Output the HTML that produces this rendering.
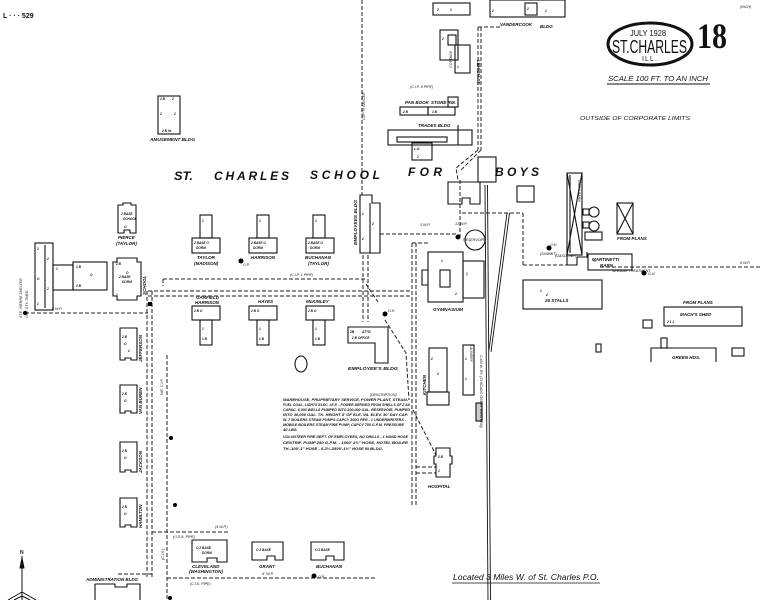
<!DOCTYPE html>
<html><head><meta charset="utf-8"><style>
html,body{margin:0;padding:0;background:#fff;}
svg{display:block;}
text{font-family:"Liberation Sans",sans-serif;fill:#111;font-style:italic;font-weight:bold;}
.t{font-size:4.5px;}
.s{font-size:3.6px;font-weight:normal;}
.m{font-size:3.2px;font-weight:normal;font-style:normal;}
</style></head><body>
<svg width="771" height="600" viewBox="0 0 771 600" xmlns="http://www.w3.org/2000/svg">
<rect width="771" height="600" fill="#fff"/>

<!-- header -->
<text x="3" y="18" style="font-size:7px;font-style:normal">L · · · 529</text>
<text x="740" y="8" class="s">(INCH)</text>
<ellipse cx="650" cy="44" rx="42" ry="21" fill="none" stroke="#111" stroke-width="3"/>
<text x="630" y="36" style="font-size:8px;font-style:normal;font-weight:normal" textLength="36" lengthAdjust="spacingAndGlyphs">JULY 1928</text>
<text x="612" y="53" style="font-size:18px;font-style:normal;font-weight:normal" textLength="75" lengthAdjust="spacingAndGlyphs">ST.CHARLES</text>
<text x="642" y="61" style="font-size:7px;font-style:normal;font-weight:normal" textLength="15" lengthAdjust="spacing">ILL.</text>
<text x="697" y="48" style="font-family:'Liberation Serif',serif;font-size:36px;font-style:normal;font-weight:bold" textLength="30" lengthAdjust="spacingAndGlyphs">18</text>
<text x="608" y="81" style="font-size:7.5px;font-weight:normal" textLength="100" lengthAdjust="spacingAndGlyphs">SCALE 100 FT. TO AN INCH</text>
<line x1="607" y1="84" x2="710" y2="84" stroke="#111" stroke-width="1"/>
<text x="580" y="120" style="font-size:5.5px;font-weight:normal" textLength="110" lengthAdjust="spacingAndGlyphs">OUTSIDE OF CORPORATE LIMITS</text>

<!-- big title -->
<g style="font-size:12px;font-weight:normal">
<text x="174" y="180" textLength="19" lengthAdjust="spacingAndGlyphs">ST.</text>
<text x="214" y="180" textLength="75" lengthAdjust="spacing">CHARLES</text>
<text x="310" y="179" textLength="70" lengthAdjust="spacing">SCHOOL</text>
<text x="408" y="176" textLength="34" lengthAdjust="spacing">FOR</text>
<text x="495" y="176" textLength="44" lengthAdjust="spacing">BOYS</text>
</g>

<!-- dashed roads -->
<g fill="none" stroke="#222" stroke-width="1" stroke-dasharray="4 2">
<line x1="362" y1="0" x2="362" y2="195"/>
<line x1="363" y1="255" x2="363" y2="322"/>
<line x1="368" y1="255" x2="368" y2="322"/>
<line x1="148" y1="291" x2="412" y2="291"/>
<line x1="148" y1="296" x2="412" y2="296"/>
<line x1="163" y1="279" x2="366" y2="279"/>
<line x1="163" y1="279" x2="163" y2="286"/>
<line x1="25" y1="313" x2="148" y2="313"/>
<line x1="147" y1="291" x2="147" y2="578"/>
<line x1="152" y1="291" x2="152" y2="578"/>
<line x1="167" y1="355" x2="167" y2="600"/>
<line x1="152" y1="532" x2="230" y2="532"/>
<line x1="167" y1="578" x2="375" y2="578"/>
<line x1="118" y1="574" x2="152" y2="574"/>
<line x1="412" y1="243" x2="412" y2="505"/>
<line x1="416" y1="243" x2="416" y2="505"/>
<line x1="412" y1="243" x2="428" y2="243"/>
<line x1="380" y1="234" x2="458" y2="234"/>
<line x1="460" y1="180" x2="460" y2="237"/>
<line x1="462" y1="213" x2="523" y2="213"/>
<line x1="523" y1="213" x2="523" y2="265"/>
<line x1="523" y1="265" x2="576" y2="265"/>
<line x1="600" y1="267" x2="762" y2="267"/>
<line x1="478" y1="27" x2="478" y2="150"/>
<line x1="481" y1="27" x2="481" y2="150"/>
<line x1="478" y1="27" x2="500" y2="27"/>
<polyline points="478,150 456,168 458,180"/>
<polyline points="481,150 461,170"/>
<polyline points="385,320 406,353 409,400"/>
<line x1="413" y1="410" x2="436" y2="455"/>
<line x1="366" y1="284" x2="378" y2="302"/>
<line x1="416" y1="467" x2="436" y2="467"/>
<line x1="416" y1="473" x2="436" y2="473"/>
</g>

<!-- railway -->
<g stroke="#111" stroke-width="0.9" fill="none">
<line x1="485" y1="185" x2="488" y2="600"/>
<line x1="487.5" y1="185" x2="490.5" y2="600"/>
<line x1="507" y1="213" x2="489" y2="350"/>
<line x1="509.5" y1="213" x2="491" y2="352"/>
</g>

<!-- buildings -->
<g fill="none" stroke="#111" stroke-width="1.1">
<rect x="158" y="96" width="22" height="38"/>
<path d="M118,205 h5 v-2 h8 v2 h5 v28 h-6 v-3 h-6 v3 h-6 z"/>
<rect x="35" y="243" width="18" height="67"/>
<line x1="45" y1="245" x2="45" y2="308"/>
<rect x="53" y="265" width="20" height="25"/>
<rect x="73" y="262" width="34" height="28"/>
<path d="M113,262 h4 v-4 h20 v4 h4 v34 h-4 v4 h-20 v-4 h-4 z"/>
<rect x="200" y="215" width="12" height="23"/><rect x="192" y="238" width="28" height="15"/>
<rect x="257" y="215" width="12" height="23"/><rect x="249" y="238" width="28" height="15"/>
<rect x="313" y="215" width="12" height="23"/><rect x="306" y="238" width="28" height="15"/>
<rect x="192" y="306" width="28" height="14"/><rect x="200" y="320" width="12" height="25"/>
<rect x="249" y="306" width="28" height="14"/><rect x="257" y="320" width="12" height="25"/>
<rect x="306" y="306" width="28" height="14"/><rect x="313" y="320" width="12" height="25"/>
<path d="M120,328 h17 v32 h-6 v-2 h-6 v2 h-5 z"/>
<path d="M120,385 h17 v28 h-6 v-2 h-6 v2 h-5 z"/>
<path d="M120,442 h17 v30 h-6 v-2 h-6 v2 h-5 z"/>
<path d="M120,498 h17 v29 h-6 v-2 h-6 v2 h-5 z"/>
<path d="M192,540 h35 v22 h-10 v-4 h-10 v4 h-15 z"/>
<path d="M252,542 h31 v18 h-8 v-4 h-8 v4 h-15 z"/>
<path d="M311,542 h33 v18 h-10 v-4 h-8 v4 h-15 z"/>
<path d="M95,584 h20 v3 h12 v-3 h13 v16"/>
<path d="M95,584 v16"/>
<path d="M360,195 h12 v8 h8 v50 h-20 z"/>
<line x1="370" y1="203" x2="370" y2="253"/>
<path d="M348,327 h40 v36 h-13 v-20 h-27 z"/>
<rect x="428" y="252" width="35" height="50"/>
<rect x="463" y="261" width="21" height="37"/>
<rect x="440" y="270" width="10" height="17"/>
<path d="M428,270 h-6 v15 h6"/>
<circle cx="475" cy="240" r="10"/>
<path d="M448,182 h32 v22 h-10 v-6 h-8 v6 h-14 z"/>
<rect x="517" y="186" width="17" height="16"/>
<rect x="433" y="3" width="37" height="12"/>
<rect x="440" y="30" width="18" height="30"/>
<rect x="455" y="45" width="15" height="28"/>
<rect x="448" y="35" width="8" height="10"/>
<rect x="400" y="107" width="28" height="8"/>
<rect x="428" y="107" width="27" height="8"/>
<rect x="448" y="97" width="10" height="10"/>
<rect x="388" y="130" width="84" height="15"/>
<rect x="397" y="137" width="50" height="5"/>
<line x1="458" y1="125" x2="458" y2="145"/>
<rect x="412" y="143" width="20" height="17"/>
<rect x="490" y="0" width="75" height="17"/>
<rect x="525" y="3" width="12" height="12"/>
<rect x="478" y="157" width="18" height="25"/>
<rect x="567" y="173" width="15" height="82"/>
<line x1="567" y1="173" x2="582" y2="255"/>
<line x1="582" y1="173" x2="567" y2="255"/>
<line x1="570" y1="175" x2="570" y2="253"/>
<path d="M567,255 v10 h10 v-8 h10 v-5"/>
<circle cx="594" cy="212" r="5"/>
<circle cx="594" cy="226" r="5"/>
<rect x="583" y="209" width="6" height="6"/>
<rect x="583" y="222" width="6" height="6"/>
<rect x="617" y="203" width="16" height="31"/>
<line x1="617" y1="203" x2="633" y2="234"/>
<line x1="633" y1="203" x2="617" y2="234"/>
<rect x="585" y="232" width="17" height="8"/>
<rect x="588" y="254" width="44" height="16"/>
<rect x="523" y="280" width="79" height="29"/>
<rect x="664" y="307" width="78" height="19"/>
<rect x="643" y="320" width="9" height="8"/>
<path d="M651,362 v-14 h65 v14"/>
<rect x="661" y="338" width="6" height="10"/>
<rect x="732" y="348" width="12" height="8"/>
<rect x="596" y="344" width="5" height="8"/>
<rect x="429" y="348" width="18" height="44"/>
<rect x="427" y="392" width="22" height="13"/>
<rect x="463" y="345" width="11" height="50"/>
<rect x="476" y="403" width="6" height="18" fill="#ccc"/>
<path d="M436,448 h14 v8 h2 v8 h-2 v13 h-14 v-13 h-2 v-8 h2 z"/>
<ellipse cx="301" cy="364" rx="6" ry="8"/>
</g>

<!-- interior details -->
<g class="m">
<text x="160" y="100">2 B</text><text x="172" y="100">2</text>
<text x="160" y="115">2</text><text x="174" y="115">2</text>
<text x="162" y="132">2 B  ht.</text>
<text x="121" y="215">2 BASE</text><text x="123" y="220">SCHOOL</text><text x="124" y="228">O</text>
<text x="37" y="250">2</text><text x="47" y="260">2</text><text x="37" y="280">O</text><text x="47" y="290">2</text><text x="37" y="305">1</text>
<text x="56" y="270">1</text><text x="76" y="268">1 B</text><text x="90" y="276">O</text><text x="76" y="287">2 B</text>
<text x="116" y="265">2 B</text><text x="119" y="278">2 BASE</text><text x="122" y="283">DORM</text><text x="126" y="274">O</text><text x="116" y="296">1</text>
<text x="202" y="222">1</text><text x="194" y="244">2 BASE O</text><text x="196" y="249">DORM</text>
<text x="259" y="222">1</text><text x="251" y="244">2 BASE O</text><text x="253" y="249">DORM</text>
<text x="315" y="222">1</text><text x="308" y="244">2 BASE O</text><text x="310" y="249">DORM</text>
<text x="194" y="312">2 B O</text><text x="202" y="330">1</text><text x="202" y="340">1 B</text>
<text x="251" y="312">2 B O</text><text x="259" y="330">1</text><text x="259" y="340">1 B</text>
<text x="308" y="312">2 B O</text><text x="315" y="330">1</text><text x="315" y="340">1 B</text>
<text x="122" y="338">2 B</text><text x="124" y="345">O</text><text x="128" y="352">2</text>
<text x="122" y="395">2 B</text><text x="124" y="402">O</text>
<text x="122" y="452">2 B</text><text x="124" y="459">O</text>
<text x="122" y="508">2 B</text><text x="124" y="515">O</text>
<text x="196" y="549">O 2 BASE</text><text x="202" y="554">DORM</text>
<text x="256" y="551">O 2 BASE</text>
<text x="315" y="551">O 2 BASE</text>
<text x="350" y="333">2B</text><text x="362" y="333">ATTIC</text><text x="352" y="339">2 B OFFICE</text>
<text x="362" y="215">1</text><text x="372" y="225">2</text><text x="362" y="240">2</text>
<text x="441" y="262">1</text><text x="455" y="295">2</text><text x="466" y="275">1</text>
<text x="431" y="360">2</text><text x="437" y="375">2</text><text x="465" y="360">1</text><text x="465" y="380">1</text>
<text x="438" y="458">2 B</text><text x="438" y="472">1</text>
<text x="414" y="150">L.O.</text><text x="417" y="158">2</text>
<text x="403" y="113">2 B</text><text x="432" y="113">1 B</text>
<text x="540" y="292">1</text><text x="546" y="296">2</text>
<text x="594" y="262">1</text><text x="667" y="323">2  1   1</text>
<text x="442" y="40">2</text><text x="457" y="55">1</text><text x="457" y="68">1</text>
<text x="492" y="12">2</text><text x="527" y="10">2</text><text x="545" y="12">2</text>
<text x="437" y="11">2</text><text x="450" y="11">1</text>
</g>

<!-- dots -->
<g fill="#000">
<circle cx="241" cy="261" r="2.5"/>
<rect x="148" y="302" width="4" height="4"/>
<circle cx="25" cy="313" r="2"/>
<circle cx="385" cy="314" r="2.5"/>
<circle cx="458" cy="237" r="2.5"/>
<circle cx="549" cy="248" r="2.5"/>
<circle cx="644" cy="273" r="2.5"/>
<circle cx="171" cy="438" r="2"/>
<circle cx="175" cy="505" r="2"/>
<circle cx="314" cy="576" r="2.5"/>
<circle cx="170" cy="598" r="2"/>
</g>

<!-- north arrow -->
<g stroke="#111" stroke-width="1" fill="none">
<line x1="22" y1="556" x2="22" y2="600"/>
<path d="M22,558 l-2,10 h4 z" fill="#111"/>
<line x1="22" y1="592" x2="8" y2="600"/>
<line x1="22" y1="592" x2="36" y2="600"/>
<line x1="22" y1="596" x2="14" y2="600"/>
<line x1="22" y1="596" x2="30" y2="600"/>
</g>
<text x="20" y="554" style="font-size:5px;font-style:normal">N</text>

<!-- labels -->
<g class="t">
<text x="150" y="141" class="t" textLength="45" lengthAdjust="spacingAndGlyphs">AMUSEMENT BLDG</text>
<text x="118" y="239" class="t">PIERCE</text>
<text x="116" y="245" class="t">(TAYLOR)</text>
<text x="197" y="259" class="t">TAYLOR</text>
<text x="194" y="265" class="t">(MADISON)</text>
<text x="251" y="259" class="t">HARRISON</text>
<text x="305" y="259" class="t">BUCHANAN</text>
<text x="308" y="265" class="t">(TAYLOR)</text>
<text x="196" y="299" class="t">GARFIELD</text>
<text x="195" y="304" class="t">HARRISON</text>
<text x="258" y="303" class="t">HAYES</text>
<text x="306" y="303" class="t">McKINLEY</text>
<text x="348" y="370" class="t" textLength="50" lengthAdjust="spacingAndGlyphs">EMPLOYEE'S BLDG</text>
<text x="433" y="311" class="t" textLength="30" lengthAdjust="spacingAndGlyphs">GYMNASIUM</text>
<text x="428" y="488" class="t">HOSPITAL</text>
<text x="192" y="568" class="t">CLEVELAND</text>
<text x="189" y="573" class="t">(WASHINGTON)</text>
<text x="259" y="568" class="t">GRANT</text>
<text x="316" y="568" class="t">BUCHANAN</text>
<text x="86" y="581" class="t" textLength="52" lengthAdjust="spacingAndGlyphs">ADMINISTRATION BLDG</text>
<text x="405" y="104" class="t">PAN BOOK</text><text x="431" y="104" class="t">STORE RM.</text>
<text x="418" y="127" class="t">TRADES BLDG</text>
<text x="500" y="26" class="t">VANDERCOOK</text><text x="540" y="28" class="t">BLDG</text>
<text x="617" y="240" class="t">FROM PLANS</text>
<text x="592" y="261" class="t">MARTINETTI</text><text x="600" y="267" class="t">BARN</text>
<text x="545" y="302" class="t">26 STALLS</text>
<text x="683" y="304" class="t">FROM PLANS</text>
<text x="680" y="316" class="t">MACH'S SHED</text>
<text x="672" y="359" class="t">GREEN HOS.</text>
<text x="463" y="241" class="s">RESERVOIR</text>
<text x="243" y="266" class="s">O.P.</text>
<text x="388" y="312" class="s">O.H.</text>
<text x="550" y="246" class="s">O.H.</text>
<text x="648" y="275" class="s">O.H.</text>
<text x="318" y="578" class="s">O.P.</text>
<text x="290" y="276" class="s">(C.I.P. 1 PIPE)</text>
<text x="455" y="225" class="s">12 W.P.</text>
<text x="540" y="255" class="s">(SUMMIT)</text>
<text x="612" y="272" class="s">SEWAGE TREATMENT</text>
<text x="370" y="396" class="s">[DESCRIPTION]</text>
<text x="173" y="538" class="s">(U.S.A. PIPE)</text>
<text x="190" y="585" class="s">(C.I.S. PIPE)</text>
<text x="52" y="310" class="s">8 W.P.</text>
<text x="410" y="88" class="s">(C.I.P. 8 PIPE)</text>
<text x="740" y="264" class="s">8 W.P.</text>
<text x="555" y="257" class="s">(GASOLINE)</text>
<text x="420" y="226" class="s">3 W.P.</text>
<text x="215" y="528" class="s">(4 W.P.)</text>
<text x="262" y="575" class="s">4" W.P.</text>
</g>
<!-- vertical labels -->
<g class="t">
<text transform="translate(357,245) rotate(-90)" class="t" textLength="45" lengthAdjust="spacingAndGlyphs">EMPLOYEES BLDG</text>
<text transform="translate(146,295) rotate(-90)" class="t">SCHOOL</text>
<text transform="translate(142,362) rotate(-90)" class="t">JEFFERSON</text>
<text transform="translate(142,414) rotate(-90)" class="t">VAN BUREN</text>
<text transform="translate(142,473) rotate(-90)" class="t">JACKSON</text>
<text transform="translate(142,528) rotate(-90)" class="t">HAMILTON</text>
<text transform="translate(426,395) rotate(-90)" class="t">KITCHEN</text>
<text transform="translate(477,60) rotate(90)" class="t">LEHIGH ST.</text>
<text transform="translate(480,355) rotate(90)" class="s">C.&amp;N.W. RY. (CHICAGO GREAT WESTERN)</text>
<text transform="translate(22,318) rotate(-90)" class="s">STE. PIERRE SHELTER</text>
<text transform="translate(28,318) rotate(-90)" class="s">ONE STY. SHED</text>
<text transform="translate(163,395) rotate(-90)" class="s">WE. C.I.P.</text>
<text transform="translate(164,560) rotate(-90)" class="s">(C.I.S.)</text>
<text transform="translate(365,120) rotate(-90)" class="s">CUP 'N SAUCER</text>
<text transform="translate(578,180) rotate(90)" class="s">DAIRY BARN</text>
<text transform="translate(452,68) rotate(-90)" class="s">COTTAGE</text>
<text transform="translate(470,345) rotate(90)" class="s">LAUNDRY</text>
</g>

<!-- description paragraph -->
<g style="font-size:4px;font-weight:normal">
<text x="283" y="401" textLength="125" lengthAdjust="spacingAndGlyphs">WAREHOUSE, PROPRIETARY SERVICE, POWER PLANT, STEAM-</text>
<text x="283" y="406" textLength="127" lengthAdjust="spacingAndGlyphs">FUEL COAL. LIGHTS ELEC. I.E.P. - POWER DERIVED FROM SHELLS OF 2 AS</text>
<text x="283" y="411" textLength="127" lengthAdjust="spacingAndGlyphs">CAPAC. 6,000 WELLS PUMPED INTO 200,000 GAL. RESERVOIR, PUMPED</text>
<text x="283" y="416" textLength="125" lengthAdjust="spacingAndGlyphs">INTO 30,000 GAL. TK. HEIGHT 8' OF ELE. VA. ELEV. 30' DAY CAP.</text>
<text x="283" y="421" textLength="123" lengthAdjust="spacingAndGlyphs">W. 7 BOILERS STEAM PUMPS CAPCY 300G PER - 1 UNDERWRITERS -</text>
<text x="283" y="426" textLength="121" lengthAdjust="spacingAndGlyphs">MOBILE BOILERS STEAM FIRE PUMP, CAPCY 750 G.P.M. PRESSURE</text>
<text x="283" y="431">40 LBS.</text>
<text x="283" y="438" textLength="125" lengthAdjust="spacingAndGlyphs">VOLUNTEER FIRE DEPT. OF EMPLOYEES, NO DRILLS - 1 HAND HOSE</text>
<text x="283" y="444" textLength="125" lengthAdjust="spacingAndGlyphs">CENTRIF. PUMP 250 G.P.M. - 1000' 2½" HOSE, HOTEL BOILER</text>
<text x="283" y="450" textLength="100" lengthAdjust="spacingAndGlyphs">TH.-100'-1" HOSE - 8-2½-2500'-1½" HOSE IN BLDG.</text>
</g>

<!-- footer -->
<text x="453" y="580" style="font-size:8px;font-weight:normal" textLength="146" lengthAdjust="spacingAndGlyphs">Located 3 Miles W. of St. Charles P.O.</text>
<line x1="452" y1="583" x2="600" y2="583" stroke="#111" stroke-width="0.8"/>
</svg>
</body></html>
